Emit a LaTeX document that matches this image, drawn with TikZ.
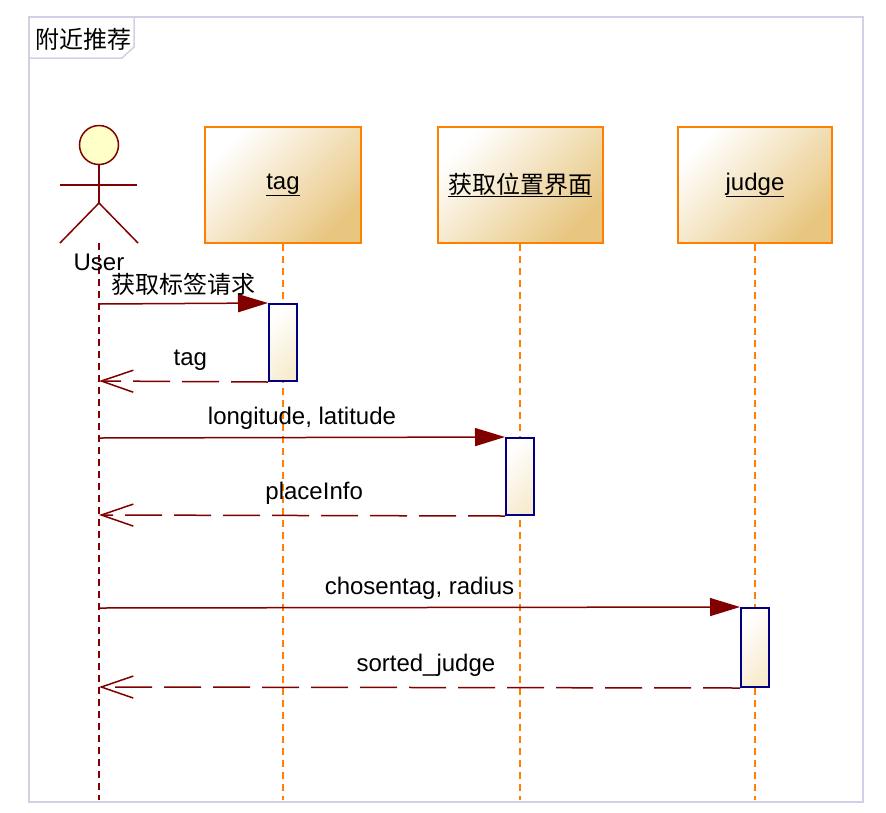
\documentclass[tikz,border=0pt]{standalone}
\usepackage{fontspec}
\setmainfont{Liberation Sans}
\newfontfamily\cjk{Noto Sans CJK SC}
\usetikzlibrary{arrows.meta}

\definecolor{msgred}{RGB}{128,0,0}
\definecolor{lifeorange}{RGB}{255,128,0}
\definecolor{actnavy}{RGB}{0,0,128}
\definecolor{framegray}{RGB}{208,208,230}
\definecolor{boxtan}{RGB}{232,198,128}
\definecolor{actcream}{RGB}{248,236,208}
\definecolor{headyellow}{RGB}{255,255,200}

\begin{document}
\begin{tikzpicture}[x=1pt,y=-1pt,
    font=\fontsize{24}{28}\selectfont,
    obj/.style={draw=lifeorange, line width=2pt, minimum height=116pt,
      top color=white, bottom color=boxtan, shading angle=45},
    act/.style={draw=actnavy, line width=2pt, minimum width=28pt,
      top color=white, bottom color=actcream, shading angle=45},
    lifeline/.style={draw=lifeorange, line width=2pt, dash pattern=on 7pt off 5pt},
    userline/.style={draw=msgred, line width=1.5pt, dash pattern=on 7pt off 5pt},
    msg/.style={draw=msgred, line width=1.5pt, -{Triangle[length=30pt,width=18pt]}},
    ret/.style={draw=msgred, line width=1.5pt, dash pattern=on 37pt off 12pt,
      -{Straight Barb[length=32pt,width=22pt,line width=1.5pt]}},
    lbl/.style={midway, above, inner sep=4pt, yshift=3pt},
    rlbl/.style={pos=0.46, above, inner sep=4pt, yshift=6pt}]

    \useasboundingbox (0,0) rectangle (886,812);

    % Frame
    \draw[framegray, line width=2pt] (29,17) rectangle (863,802);
    \draw[framegray, line width=1.5pt, fill=white] (29,17) -- (134,17) -- (134,47) -- (122,58) -- (29,58) -- cycle;
    \node[anchor=west, inner sep=0pt] (title) at (35,39) {\cjk 附近推荐};

    % Lifeline bottom
    \coordinate (bottom) at (0,800);

    % Actor
    \node[circle, draw=msgred, line width=1.5pt, fill=headyellow, minimum size=39pt, inner sep=0pt] (head) at (99,145) {};
    \coordinate (hip) at (99,203);
    \coordinate (foot) at (99,243);
    \draw[msgred, line width=1.5pt] (head.south) -- (hip);
    \draw[msgred, line width=1.5pt] (60,185) -- (137,185);
    \draw[msgred, line width=1.5pt] (60,243) -- (hip) -- (138,243);
    \draw[userline] (foot) -- (foot |- bottom);
    \node[inner sep=0pt] (user) at (99,262) {User};

    % Objects
    \node[obj, minimum width=156pt] (tag) at (283,185) {\underline{tag}};
    \node[obj, minimum width=165pt] (place) at (520,185) {\underline{\cjk 获取位置界面}};
    \node[obj, minimum width=154pt] (judge) at (755,185) {\underline{judge}};

    % Lifelines
    \draw[lifeline] (tag.south) -- (tag.south |- bottom);
    \draw[lifeline] (place.south) -- (place.south |- bottom);
    \draw[lifeline] (judge.south) -- (judge.south |- bottom);

    % Activations
    \node[act, minimum height=77pt] (act1) at (283,342.5) {};
    \node[act, minimum height=77pt] (act2) at (520,476.5) {};
    \node[act, minimum height=79pt] (act3) at (755,647.5) {};

    % User points
    \coordinate (u1) at (99,304);
    \coordinate (u2) at (99,381);
    \coordinate (u3) at (99,438);
    \coordinate (u4) at (99,515);
    \coordinate (u5) at (99,608);
    \coordinate (u6) at (99,687);

    % Messages
    \draw[msg] (u1) -- (act1.north west) node[lbl] {\cjk 获取标签请求};
    \draw[ret] (act1.south west) -- (u2) node[rlbl] {tag};
    \draw[msg] (u3) -- (act2.north west) node[lbl] {longitude, latitude};
    \draw[ret] (act2.south west) -- (u4) node[rlbl, pos=0.47] {placeInfo};
    \draw[msg] (u5) -- (act3.north west) node[lbl] {chosentag, radius};
    \draw[ret] (act3.south west) -- (u6) node[rlbl, pos=0.49] {sorted\_judge};
\end{tikzpicture}
\end{document}
